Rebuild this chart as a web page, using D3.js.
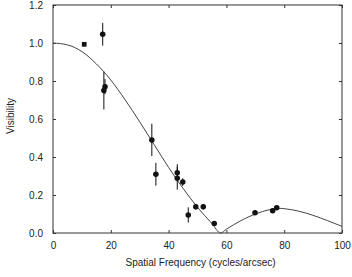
<!DOCTYPE html>
<html>
<head>
<meta charset="utf-8">
<script src="https://cdn.jsdelivr.net/npm/d3@7"></script>
<style>
  body { margin: 0; background: #fff; }
  svg text { font-family: "Liberation Sans", Arial, sans-serif; fill: #222; }
</style>
</head>
<body>
<svg width="352" height="277"></svg>
<script>
// measured visibilities
const freq = [10.8, 17.2, 17.6, 18.0, 34.2, 35.6, 43.0, 43.0, 44.9, 46.8, 49.4, 52.0, 55.8, 69.9, 76.0, 77.4]
const vis  = [0.993, 1.046, 0.75, 0.77, 0.49, 0.309, 0.317, 0.288, 0.268, 0.095, 0.138, 0.138, 0.05, 0.107, 0.117, 0.133]
const err  = [0.01, 0.06, 0.1, 0.04, 0.085, 0.06, 0.045, 0.06, 0.02, 0.04, 0.015, 0.015, 0.01, 0.012, 0.012, 0.012]
const marker = ["square", "dot", "dot", "dot", "dot", "dot", "dot", "dot", "dot", "dot", "dot", "dot", "dot", "dot", "dot", "dot"]

// model curve
const modelF = [0, 5, 10, 15, 20, 25, 30, 35, 40, 45, 50, 55, 58, 60, 65, 70, 75, 78, 80, 85, 90, 95, 100]
const modelV = [1.0, 0.99, 0.955, 0.89, 0.805, 0.70, 0.585, 0.465, 0.345, 0.235, 0.135, 0.05, 0.0, 0.02, 0.065, 0.10, 0.123, 0.13, 0.128, 0.115, 0.093, 0.065, 0.035]

const xTicks = [0, 20, 40, 60, 80, 100]
const yTicks = [0.0, 0.2, 0.4, 0.6, 0.8, 1.0, 1.2]

const svg = d3.select("svg")
const M_LEFT = 53, M_RIGHT = 342, M_TOP = 5, M_BOTTOM = 233

const x = d3.scaleLinear().domain([0, 100]).range([M_LEFT, M_RIGHT])
const y = d3.scaleLinear().domain([0, 1.2]).range([M_BOTTOM, M_TOP])

// frame
svg.append("rect")
    .attr("x", M_LEFT).attr("y", M_TOP)
    .attr("width", M_RIGHT - M_LEFT).attr("height", M_BOTTOM - M_TOP)
    .attr("fill", "none").attr("stroke", "#333").attr("stroke-width", 1)

// axes with inward ticks
const fmtY = d3.format(".1f")
svg.append("g").attr("transform", `translate(0,${M_BOTTOM})`)
    .call(d3.axisBottom(x).tickValues(xTicks).tickSize(-3).tickPadding(9))
svg.append("g").attr("transform", `translate(0,${M_TOP})`)
    .call(d3.axisTop(x).tickValues(xTicks).tickSize(-3).tickFormat(""))
svg.append("g").attr("transform", `translate(${M_LEFT},0)`)
    .call(d3.axisLeft(y).tickValues(yTicks).tickSize(-3).tickPadding(10).tickFormat(fmtY))
svg.append("g").attr("transform", `translate(${M_RIGHT},0)`)
    .call(d3.axisRight(y).tickValues(yTicks).tickSize(-3).tickFormat(""))

svg.selectAll(".domain").remove()
svg.selectAll(".tick line").attr("stroke", "#333")
svg.selectAll(".tick text").attr("font-size", 10).attr("fill", "#222")

// axis titles
svg.append("text")
    .attr("x", (M_LEFT + M_RIGHT) / 2 + 3).attr("y", 266)
    .attr("text-anchor", "middle").attr("font-size", 10)
    .text("Spatial Frequency (cycles/arcsec)")
svg.append("text")
    .attr("transform", `translate(14,${116}) rotate(-90)`)
    .attr("text-anchor", "middle").attr("font-size", 10)
    .text("Visibility")

// model line
const line = d3.line()
    .x((d, i) => x(modelF[i]))
    .y(d => y(d))
    .curve(d3.curveMonotoneX)
svg.append("path")
    .datum(modelV)
    .attr("d", line)
    .attr("fill", "none")
    .attr("stroke", "#444")
    .attr("stroke-width", 1)

// data points
const pts = freq.map((f, i) => ({f: f, v: vis[i], e: err[i], m: marker[i]}))

svg.append("g").selectAll("line")
    .data(pts)
    .enter().append("line")
    .attr("x1", d => x(d.f)).attr("x2", d => x(d.f))
    .attr("y1", d => y(d.v - d.e)).attr("y2", d => y(d.v + d.e))
    .attr("stroke", "#111").attr("stroke-width", 1)

svg.append("g").selectAll("path")
    .data(pts)
    .enter().append("path")
    .attr("transform", d => `translate(${x(d.f)},${y(d.v)})`)
    .attr("d", d => d3.symbol().type(d.m === "square" ? d3.symbolSquare : d3.symbolCircle).size(d.m === "square" ? 22 : 24)())
    .attr("fill", "#111")
</script>
</body>
</html>
